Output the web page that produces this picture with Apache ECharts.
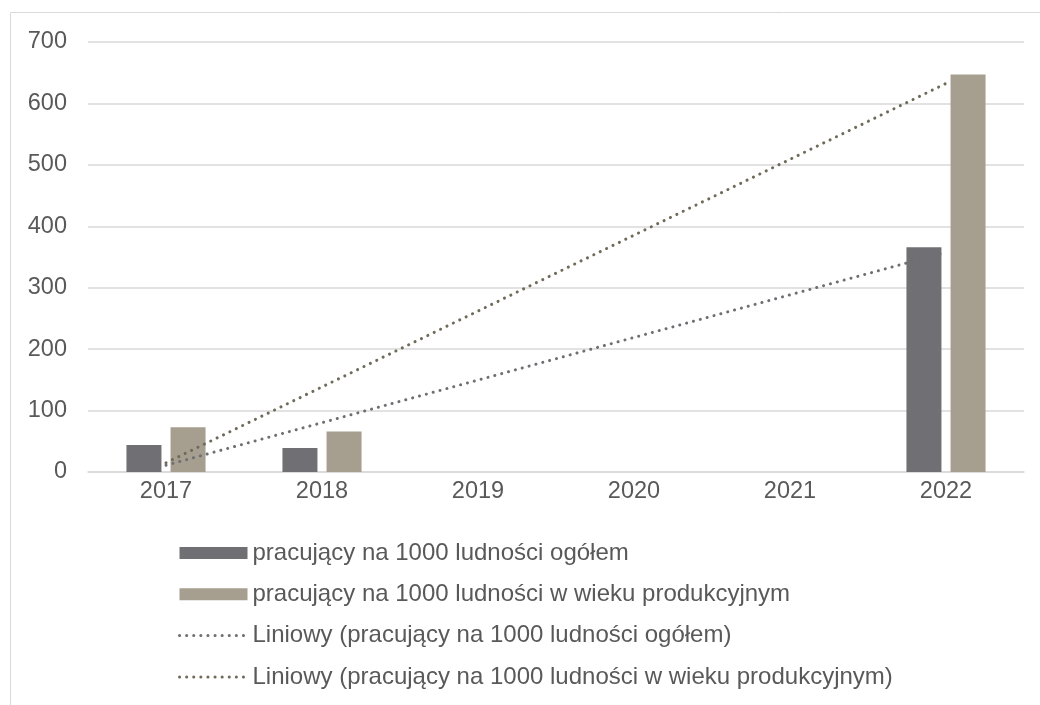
<!DOCTYPE html>
<html><head><meta charset="utf-8">
<script src="https://cdn.jsdelivr.net/npm/echarts@6/dist/echarts.min.js"></script>
<style>html,body{margin:0;padding:0;background:#fff}#c{width:1040px;height:705px}</style>
</head><body><div id="c"></div>
<script>
const categories = ['2017','2018','2019','2020','2021','2022'];
const ogolem = [44, 39, null, null, null, 366];
const produkcyjny = [73, 66, null, null, null, 647];
const yTicks = [0,100,200,300,400,500,600,700];
const names = [
  'pracujący na 1000 ludności ogółem',
  'pracujący na 1000 ludności w wieku produkcyjnym',
  'Liniowy (pracujący na 1000 ludności ogółem)',
  'Liniowy (pracujący na 1000 ludności w wieku produkcyjnym)'
];
// Excel-style linear trendline over the non-empty points (x = category index + 1)
function trend(vals){
  const pts = vals.map((v,i)=>[i+1,v]).filter(p=>p[1]!=null);
  const n = pts.length;
  const mx = pts.reduce((s,p)=>s+p[0],0)/n, my = pts.reduce((s,p)=>s+p[1],0)/n;
  let sxy=0,sxx=0; pts.forEach(p=>{sxy+=(p[0]-mx)*(p[1]-my); sxx+=(p[0]-mx)**2;});
  const b = sxy/sxx, a = my-b*mx;
  return vals.map((v,i)=>+(a+b*(i+1)).toFixed(2));
}
const chart = echarts.init(document.getElementById('c'), null, {renderer:'canvas'});
const font = 'Liberation Sans, Arial, sans-serif';
const fs = 23.5;
chart.setOption({
  animation:false,
  textStyle:{fontFamily:font},
  graphic:[{type:'rect',shape:{x:10.5,y:12.5,width:1100,height:800},style:{fill:'none',stroke:'#d9d9d9',lineWidth:1},silent:true}],
  grid:{left:88,right:16,top:42,bottom:233},
  xAxis:{type:'category',data:categories,
    axisLine:{lineStyle:{color:'#d9d9d9',width:1.5}},axisTick:{show:false},
    axisLabel:{color:'#595959',fontSize:fs,margin:8,fontFamily:font}},
  yAxis:{type:'value',min:0,max:700,interval:100,
    axisLine:{show:false},axisTick:{show:false},
    splitLine:{lineStyle:{color:'#d9d9d9',width:1.5}},
    axisLabel:{color:'#595959',fontSize:fs,margin:21,fontFamily:font,
      formatter:v=>yTicks.includes(v)?String(v):''}},
  legend:{orient:'vertical',left:178,top:541,padding:0,itemWidth:68,itemHeight:12,itemGap:17.3,itemTextGap:8,
    textStyle:{color:'#595959',fontSize:24,fontFamily:font},
    lineStyle:{width:3},
    data:names.map((n,i)=>i<2?{name:n,icon:'rect'}:{name:n,itemStyle:{opacity:0}})},
  series:[
    {name:names[0],type:'bar',data:ogolem,barWidth:35,barGap:'26%',
      itemStyle:{color:'#706f74'}},
    {name:names[1],type:'bar',data:produkcyjny,barWidth:35,
      itemStyle:{color:'#a69f8f'}},
    {name:names[2],type:'line',data:trend(ogolem),symbol:'none',z:5,
      itemStyle:{color:'#6f6e73'},
      lineStyle:{color:'#6f6e73',width:3,type:[0.1,7],cap:'round'}},
    {name:names[3],type:'line',data:trend(produkcyjny),symbol:'none',z:5,
      itemStyle:{color:'#706a5a'},
      lineStyle:{color:'#706a5a',width:3,type:[0.1,7],cap:'round'}}
  ]
});
</script></body></html>
